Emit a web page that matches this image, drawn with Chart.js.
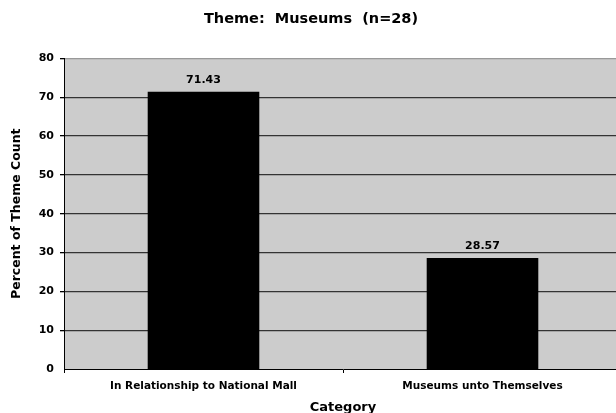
<!DOCTYPE html>
<html>
<head>
<meta charset="utf-8">
<script src="https://cdn.jsdelivr.net/npm/chart.js@4.4.1/dist/chart.umd.min.js"></script>
<style>
  html, body { margin: 0; padding: 0; background: #fff; overflow: hidden; }
  #wrap { width: 622px; height: 413px; }
</style>
</head>
<body>
<div id="wrap"><canvas id="museumChart" width="622" height="413"></canvas></div>
<script>
// dados
const categories = ['In Relationship to National Mall', 'Museums unto Themselves'];
const percentValues = [71.43, 28.57];
const yTicks = [0, 10, 20, 30, 40, 50, 60, 70, 80];

const fontFamily = '"DejaVu Sans", Verdana, sans-serif';

// fundo cinza da área do gráfico
const plotBackground = {
    id: 'plotBackground',
    beforeDraw(chart) {
        const a = chart.chartArea;
        const ctx = chart.ctx;
        ctx.save();
        ctx.fillStyle = '#cccccc';
        ctx.fillRect(a.left, a.top, a.right - a.left, a.bottom - a.top);
        ctx.restore();
    }
};

// rótulos de valor acima das barras
const valueLabels = {
    id: 'valueLabels',
    afterDatasetsDraw(chart) {
        const ctx = chart.ctx;
        const meta = chart.getDatasetMeta(0);
        ctx.save();
        ctx.font = 'bold 11px ' + fontFamily;
        ctx.fillStyle = '#000';
        ctx.textAlign = 'center';
        ctx.textBaseline = 'bottom';
        meta.data.forEach(function (bar, i) {
            ctx.fillText(percentValues[i].toFixed(2), bar.x, bar.y - 6);
        });
        ctx.restore();
    }
};

new Chart(document.getElementById('museumChart'), {
    type: 'bar',
    data: {
        labels: categories,
        datasets: [{
            data: percentValues,
            backgroundColor: '#000',
            borderColor: '#000',
            borderWidth: 0,
            categoryPercentage: 1,
            barPercentage: 0.4
        }]
    },
    options: {
        responsive: false,
        animation: false,
        layout: { padding: { left: 0, right: 0, top: 0, bottom: 0 } },
        plugins: {
            legend: { display: false },
            tooltip: { enabled: false },
            title: {
                display: true,
                text: 'Theme:  Museums  (n=28)',
                color: '#000',
                font: { family: fontFamily, size: 14.5, weight: 'bold' },
                padding: { top: 11, bottom: 30 }
            }
        },
        scales: {
            x: {
                offset: true,
                grid: {
                    offset: true,
                    drawOnChartArea: false,
                    tickLength: 4,
                    tickColor: '#000'
                },
                border: { color: '#000', width: 1 },
                ticks: {
                    color: '#000',
                    padding: 7,
                    maxRotation: 0,
                    font: { family: fontFamily, size: 10.5, weight: 'bold' }
                },
                title: {
                    display: true,
                    text: 'Category',
                    color: '#000',
                    font: { family: fontFamily, size: 13, weight: 'bold' },
                    padding: { top: 0, bottom: -2 }
                },
                afterFit(scale) { scale.height = 44; }
            },
            y: {
                min: 0,
                max: 80,
                afterBuildTicks(scale) {
                    scale.ticks = yTicks.map(v => ({ value: v }));
                },
                grid: {
                    color: ctx => ctx.tick && ctx.tick.value === 80 ? '#999999' : '#333333',
                    lineWidth: ctx => ctx.tick && ctx.tick.value === 0 ? 0 : 1.3,
                    tickLength: 4,
                    tickColor: '#000'
                },
                border: { color: '#000', width: 1 },
                ticks: {
                    color: '#000',
                    padding: 6,
                    font: { family: fontFamily, size: 11, weight: 'bold' }
                },
                title: {
                    display: true,
                    text: 'Percent of Theme Count',
                    color: '#000',
                    font: { family: fontFamily, size: 12.5, weight: 'bold' },
                    padding: { top: 9, bottom: 0 }
                },
                afterFit(scale) { scale.width = 64; }
            }
        }
    },
    plugins: [plotBackground, valueLabels]
});
</script>
</body>
</html>
